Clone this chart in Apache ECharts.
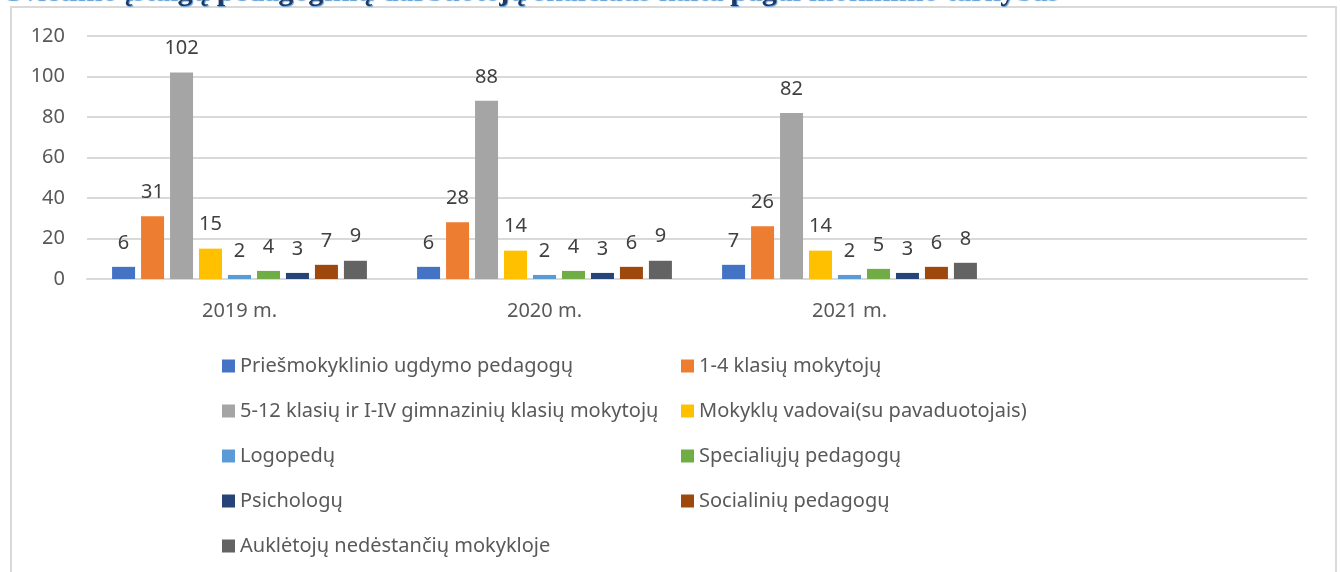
<!DOCTYPE html>
<html>
<head>
<meta charset="utf-8">
<script src="https://cdn.jsdelivr.net/npm/echarts@6/dist/echarts.min.js"></script>
<style>
  html, body { margin: 0; padding: 0; background: #fff; }
  #chart { width: 1340px; height: 572px; }
</style>
</head>
<body>
<div id="chart"></div>
<script>
// data
const years = ['2019 m.', '2020 m.', '2021 m.', '']
const yTicks = [0, 20, 40, 60, 80, 100, 120]
const seriesNames = [
  'Priešmokyklinio ugdymo pedagogų',
  '1-4 klasių mokytojų',
  '5-12 klasių ir I-IV gimnazinių klasių mokytojų',
  'Mokyklų vadovai(su pavaduotojais)',
  'Logopedų',
  'Specialiųjų pedagogų',
  'Psichologų',
  'Socialinių pedagogų',
  'Auklėtojų nedėstančių mokykloje'
]
const preschool = [6, 6, 7]
const grades14 = [31, 28, 26]
const grades512 = [102, 88, 82]
const leaders = [15, 14, 14]
const speechTherapists = [2, 2, 2]
const specialEd = [4, 4, 5]
const psychologists = [3, 3, 3]
const socialEd = [7, 6, 6]
const caretakers = [9, 9, 8]
const colors = ['#4472C4', '#ED7D31', '#A5A5A5', '#FFC000', '#5B9BD5', '#70AD47', '#264478', '#9E480E', '#636363']

const allValues = [preschool, grades14, grades512, leaders, speechTherapists, specialEd, psychologists, socialEd, caretakers]
const font = '"Noto Sans", sans-serif'
const textColor = '#595959'

const chart = echarts.init(document.getElementById('chart'))

chart.setOption({
  backgroundColor: '#fff',
  animation: false,
  title: {
    text: 'Švietimo įstaigų pedagoginių darbuotojų skaičiaus kaita pagal mokinimo tarnybas',
    left: 0,
    top: -28,
    textStyle: {
      fontFamily: '"Liberation Serif", serif',
      fontWeight: 'bold',
      fontSize: 30,
      color: '#1F3864',
      textShadowColor: '#5B9BD5',
      textShadowOffsetX: 1,
      textShadowOffsetY: 1,
      textShadowBlur: 1
    }
  },
  graphic: [{
    type: 'rect',
    shape: { x: 11, y: 7, width: 1325, height: 590 },
    style: { fill: 'none', stroke: '#d9d9d9', lineWidth: 2 },
    z: -1
  }],
  legend: [
    {
      orient: 'vertical',
      left: 217,
      top: 351,
      itemWidth: 13,
      itemHeight: 13,
      itemGap: 25,
      icon: 'rect',
      data: seriesNames.filter((n, i) => i % 2 === 0),
      textStyle: { fontFamily: font, fontSize: 20, color: textColor, lineHeight: 20 }
    },
    {
      orient: 'vertical',
      left: 676,
      top: 351,
      itemWidth: 13,
      itemHeight: 13,
      itemGap: 25,
      icon: 'rect',
      data: seriesNames.filter((n, i) => i % 2 === 1),
      textStyle: { fontFamily: font, fontSize: 20, color: textColor, lineHeight: 20 }
    }
  ],
  grid: {
    left: 87,
    right: 33,
    top: 36,
    bottom: 293,
    containLabel: false
  },
  xAxis: {
    type: 'category',
    data: years,
    axisLine: { lineStyle: { color: '#d9d9d9', width: 2 } },
    axisTick: { show: false },
    axisLabel: { margin: 22, fontFamily: font, fontSize: 20, color: textColor }
  },
  yAxis: {
    type: 'value',
    min: yTicks[0],
    max: yTicks[yTicks.length - 1],
    interval: 20,
    axisLine: { show: false },
    axisTick: { show: false },
    splitLine: { lineStyle: { color: '#d9d9d9', width: 2 } },
    axisLabel: { margin: 22, fontFamily: font, fontSize: 20, color: textColor }
  },
  series: seriesNames.map((name, i) => ({
    name: name,
    type: 'bar',
    barWidth: 23,
    barGap: '26%',
    data: allValues[i],
    itemStyle: { color: colors[i] },
    label: {
      show: true,
      position: 'top',
      distance: 14,
      fontFamily: font,
      fontSize: 20,
      color: '#404040'
    }
  }))
})
</script>
</body>
</html>
